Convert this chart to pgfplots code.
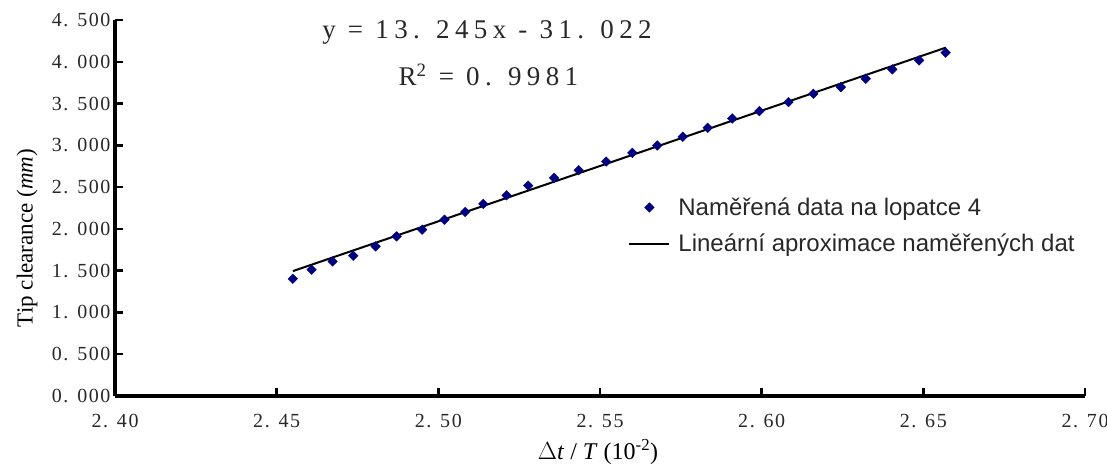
\documentclass[border=0pt]{standalone}
\usepackage{fontspec}
\setmainfont{Liberation Serif}
\newfontfamily\ticksfont[LetterSpace=8]{Liberation Serif}
\newfontfamily\eqfont[LetterSpace=20]{Liberation Serif}
\newfontfamily\legfont{Liberation Sans}
\usepackage{pgfplots}
\pgfplotsset{compat=1.18}
\definecolor{navy}{RGB}{0,0,128}
\definecolor{txtgray}{RGB}{40,40,40}
\pgfplotstableread{
x y
2.4550 1.403
2.4608 1.511
2.4673 1.610
2.4737 1.679
2.4806 1.790
2.4871 1.910
2.4950 1.990
2.5019 2.110
2.5083 2.203
2.5139 2.299
2.5211 2.402
2.5278 2.518
2.5358 2.610
2.5434 2.702
2.5519 2.806
2.5600 2.910
2.5677 2.998
2.5756 3.102
2.5833 3.210
2.5909 3.321
2.5993 3.409
2.6083 3.517
2.6160 3.617
2.6245 3.697
2.6322 3.797
2.6404 3.909
2.6487 4.017
2.6569 4.109
}\measured
\begin{document}
\begin{tikzpicture}
\useasboundingbox (0,0) rectangle (1107bp,465bp);
\begin{axis}[
  at={(115bp,69bp)}, anchor=south west,
  scale only axis, width=970bp, height=376bp,
  xmin=2.40, xmax=2.70, ymin=0, ymax=4.5,
  clip=false,
  axis x line*=bottom, axis y line*=left,
  axis line style={line width=3bp, black},
  xtick={2.40,2.45,2.50,2.55,2.60,2.65,2.70},
  xticklabels={2. 40,2. 45,2. 50,2. 55,2. 60,2. 65,2. 70},
  ytick={0,0.5,1,1.5,2,2.5,3,3.5,4,4.5},
  yticklabels={0. 000,0. 500,1. 000,1. 500,2. 000,2. 500,3. 000,3. 500,4. 000,4. 500},
  tick align=inside,
  major tick length=8bp,
  tick style={line width=2.5bp, black},
  ticklabel style={font=\ticksfont\fontsize{20bp}{23bp}\selectfont, text=txtgray},
  xticklabel style={yshift=-15bp},
  yticklabel style={xshift=-1bp},
  xlabel={$\Delta$\textit{t} / \textit{T} (10\textsuperscript{-2})},
  xlabel style={at={(axis description cs:0.498,-0.149)}, anchor=center, font=\fontsize{24bp}{27bp}\selectfont},
  ylabel={Tip clearance (\textit{mm})},
  ylabel style={at={(axis description cs:-0.0907,0.42)}, anchor=center, font=\fontsize{23bp}{26bp}\selectfont},
  legend style={at={(axis description cs:0.526,0.538)}, anchor=north west, draw=none, fill=none,
    font=\legfont\fontsize{24bp}{27bp}\selectfont, row sep=13bp, column sep=6bp, text=txtgray},
  legend cell align=left,
  legend image code/.code={\draw[mark repeat=2,mark phase=2,#1] plot coordinates {(0bp,0bp) (20bp,0bp) (40bp,0bp)};},
]
\addplot[only marks, mark=square*, mark size=3.4bp, mark options={rotate=45, fill=navy, draw=navy}, color=navy] table[x=x,y=y] {\measured};
\addlegendentry{Naměřená data na lopatce 4}
\addplot[black, line width=2bp] coordinates {(2.455,1.4945) (2.657,4.170)};
\addlegendentry{Lineární aproximace naměřených dat}
\node[font=\eqfont\fontsize{27bp}{30bp}\selectfont, text=txtgray] at (axis description cs:0.3835,0.968) {y = 13. 245x - 31. 022};
\node[font=\eqfont\fontsize{27bp}{30bp}\selectfont, text=txtgray] at (axis description cs:0.385,0.854) {R\textsuperscript{2} = 0. 9981};
\end{axis}
\end{tikzpicture}
\end{document}
